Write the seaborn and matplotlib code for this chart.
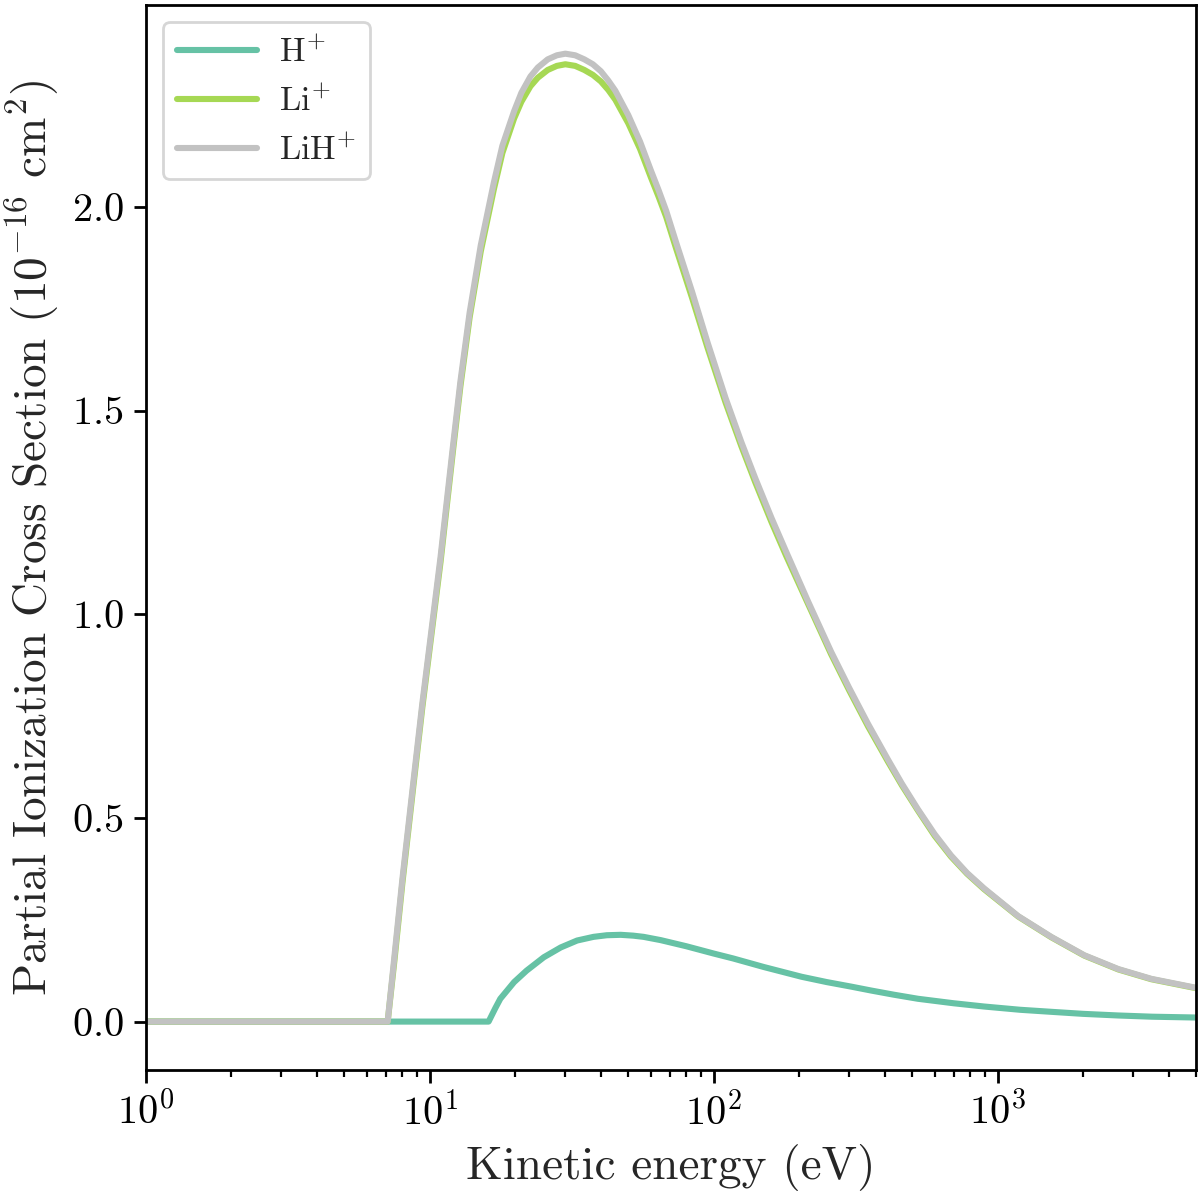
import numpy as np
import pandas as pd
import matplotlib
matplotlib.use("Agg")
import matplotlib.pyplot as plt
import seaborn as sns

# ---- data ----
energy_h = [1, 16.1, 17.0, 17.7, 19.8, 21.9, 25.2, 28.9, 33.0, 37.7, 42.0, 47.0, 52.0, 56.6,
            65.0, 80.0, 100.0, 117.0, 150.0, 204.0, 250.0, 304.0, 360.0, 431.0, 524.0,
            700.0, 896.0, 1200.0, 1545.0, 2000.0, 2661.0, 3500.0, 5000.0]
sigma_h = [0.0, 0.0, 0.033, 0.056, 0.097, 0.125, 0.158, 0.182, 0.199, 0.208, 0.212, 0.213, 0.211,
           0.208, 0.200, 0.185, 0.167, 0.155, 0.134, 0.110, 0.097, 0.086, 0.076, 0.066, 0.056,
           0.045, 0.037, 0.029, 0.024, 0.019, 0.015, 0.012, 0.010]

energy_li = [1, 7.1, 7.5, 8.0, 8.75, 9.4, 10.0, 10.9, 12.0, 12.8, 13.8, 15.1, 16.8, 18.0,
             19.8, 21.0, 22.6, 24.0, 26.0, 28.0, 30.0, 32.5, 35.0, 37.5, 40.0, 42.5, 45.0,
             50.0, 55.0, 60.0, 64.0, 68.0, 73.5, 84.0, 95.0, 110.0, 125.0, 140.0, 160.0,
             180.0, 215.0, 259.0, 300.0, 350.0, 411.0, 460.0, 524.0, 600.0, 685.0, 780.0,
             896.0, 1181.0, 1545.0, 2019.0, 2661.0, 3478.0, 5000.0]
sigma_li = [0.0, 0.0, 0.15, 0.34, 0.58, 0.77, 0.92, 1.128, 1.388, 1.558, 1.728, 1.89, 2.043, 2.132,
            2.217, 2.258, 2.296, 2.317, 2.336, 2.346, 2.350, 2.346, 2.336, 2.324, 2.308, 2.287, 2.263,
            2.205, 2.142, 2.073, 2.024, 1.975, 1.900, 1.775, 1.655, 1.520, 1.413, 1.324, 1.225,
            1.143, 1.025, 0.902, 0.813, 0.724, 0.638, 0.580, 0.518, 0.456, 0.405, 0.363,
            0.325, 0.258, 0.207, 0.162, 0.128, 0.104, 0.082]

energy_lih = energy_li
sigma_lih = [0.0, 0.0, 0.16, 0.35, 0.59, 0.78, 0.93, 1.14, 1.40, 1.57, 1.74, 1.905, 2.06, 2.15,
             2.235, 2.28, 2.32, 2.342, 2.362, 2.372, 2.376, 2.372, 2.362, 2.35, 2.333, 2.31, 2.285,
             2.225, 2.16, 2.09, 2.04, 1.99, 1.915, 1.79, 1.668, 1.531, 1.423, 1.334, 1.235,
             1.153, 1.031, 0.908, 0.819, 0.730, 0.643, 0.584, 0.521, 0.460, 0.408, 0.365,
             0.327, 0.259, 0.208, 0.163, 0.129, 0.105, 0.083]

ions = ["H$^{+}$", "Li$^{+}$", "LiH$^{+}$"]
colors = ["#66c2a5", "#a6d854", "#c2c2c2"]

df = pd.concat([
    pd.DataFrame({"E": energy_h, "sigma": sigma_h, "ion": ions[0]}),
    pd.DataFrame({"E": energy_li, "sigma": sigma_li, "ion": ions[1]}),
    pd.DataFrame({"E": energy_lih, "sigma": sigma_lih, "ion": ions[2]}),
], ignore_index=True)

sns.set_theme(style="ticks")
plt.rcParams["font.family"] = ["serif"]
plt.rcParams["font.serif"] = ["cmr10", "DejaVu Serif"]
plt.rcParams["mathtext.fontset"] = "cm"
plt.rcParams["axes.unicode_minus"] = False
plt.rcParams["axes.formatter.use_mathtext"] = True
plt.rcParams["axes.edgecolor"] = "black"
plt.rcParams["axes.linewidth"] = 1.0
plt.rcParams["xtick.color"] = "black"
plt.rcParams["ytick.color"] = "black"
plt.rcParams["xtick.major.size"] = 4.5
plt.rcParams["ytick.major.size"] = 4.5
plt.rcParams["xtick.minor.size"] = 2.5
plt.rcParams["xtick.major.width"] = 1.0
plt.rcParams["ytick.major.width"] = 1.0
plt.rcParams["xtick.minor.width"] = 0.8

fig = plt.figure(figsize=(6, 5.995), dpi=200)
ax = fig.add_axes([0.1217, 0.1076, 0.875, 0.888])

sns.lineplot(data=df, x="E", y="sigma", hue="ion", hue_order=ions,
             palette=dict(zip(ions, colors)), estimator=None, sort=False,
             linewidth=2.2, ax=ax)

ax.set_xscale("log")
ax.set_xlim(1, 5000)
ax.set_xlabel("Kinetic energy (eV)", fontsize=17)
ax.set_ylabel("Partial Ionization Cross Section ($10^{-16}$ cm$^2$)", fontsize=17)
ax.tick_params(axis="both", which="major", labelsize=14.5, direction="out")
ax.tick_params(axis="x", which="minor", direction="out")

handles, labels = ax.get_legend_handles_labels()
leg = ax.legend(handles, labels, loc="upper left", fontsize=12.3, frameon=True,
                fancybox=True, framealpha=0.8, edgecolor="0.8",
                handlelength=2.35, handletextpad=0.65, borderaxespad=0.5)
for line in leg.get_lines():
    line.set_linewidth(2.2)

fig.savefig("out.png", dpi=200)
